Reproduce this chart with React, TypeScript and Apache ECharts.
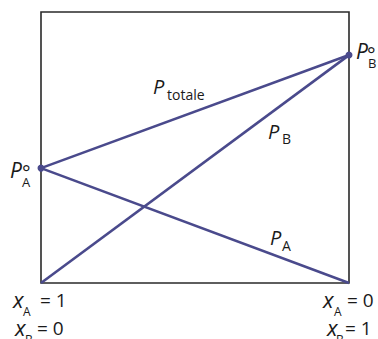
import React, { useEffect, useRef } from "react";
import * as echarts from "echarts";

// Mole fraction of B (x_B), from 0 (pure A) to 1 (pure B)
const xB = [0, 1];
// Partial pressures and total pressure (relative units, 0–100 = box height)
const pA = [42.4, 0];
const pB = [0, 84.1];
const pTotal = [42.4, 84.1];

const LINE = "#4a4a8c";
const FONT = "'Open Sans', 'Noto Sans', sans-serif";

function t(text: string, x: number, y: number, size: number, italic = false, lh?: number) {
  return {
    type: "text",
    x,
    y,
    silent: true,
    style: {
      text,
      fontFamily: FONT,
      fontSize: size,
      fontStyle: italic ? "italic" : "normal",
      fill: "#1a1a1a",
      textAlign: "left",
      textVerticalAlign: "middle",
      lineHeight: lh,
    },
  };
}

export default function App() {
  const ref = useRef<HTMLDivElement>(null);
  useEffect(() => {
    if (!ref.current) return;
    const chart = echarts.init(ref.current, undefined, { renderer: "svg" });
    const pts = (ys: number[]) => xB.map((x, i) => [x, ys[i]]);
    chart.setOption({
      animation: false,
      grid: {
        left: 41,
        right: 29,
        top: 12,
        bottom: 56,
        show: true,
        borderColor: "#2a2a2a",
        borderWidth: 1.6,
      },
      xAxis: {
        type: "value",
        min: 0,
        max: 1,
        axisLine: { show: false },
        axisTick: { show: false },
        axisLabel: { show: false },
        splitLine: { show: false },
      },
      yAxis: {
        type: "value",
        min: 0,
        max: 100,
        axisLine: { show: false },
        axisTick: { show: false },
        axisLabel: { show: false },
        splitLine: { show: false },
      },
      series: [
        {
          type: "line",
          data: pts(pA),
          symbol: "none",
          clip: false,
          lineStyle: { color: LINE, width: 2.6 },
        },
        {
          type: "line",
          data: pts(pB),
          symbol: "none",
          clip: false,
          lineStyle: { color: LINE, width: 2.6 },
        },
        {
          type: "line",
          data: pts(pTotal),
          symbol: "circle",
          symbolSize: 7,
          clip: false,
          itemStyle: { color: LINE },
          lineStyle: { color: LINE, width: 2.6 },
        },
      ],
      graphic: [
        // P totale
        t("P", 153, 86, 20, true),
        t("totale", 167, 94, 14),
        // P B
        t("P", 268, 131, 20, true),
        t("B", 282, 138, 14),
        // P A
        t("P", 270, 237, 20, true),
        t("A", 282, 245, 14),
        // P°A
        t("P", 10, 170, 21, true),
        t("°", 22, 172, 20, false, 8),
        t("A", 22, 182, 13, false, 10),
        // P°B
        t("P", 356, 51, 21, true),
        t("°", 367, 54, 20, false, 8),
        t("B", 368, 63, 13, false, 10),
        // bottom-left
        t("x", 13, 299, 22, true),
        t("A", 23, 311, 12, false, 10),
        t("= 1", 40, 300, 19),
        t("x", 15, 327, 22, true),
        t("B", 25, 339, 12, false, 10),
        t("= 0", 37, 328, 19),
        // bottom-right
        t("x", 323, 299, 22, true),
        t("A", 334, 311, 12, false, 10),
        t("= 0", 347, 300, 19),
        t("x", 327, 327, 22, true),
        t("B", 336, 339, 12, false, 10),
        t("= 1", 345, 328, 19),
      ],
    });
    return () => chart.dispose();
  }, []);
  return (
    <div
      ref={ref}
      style={{ position: "fixed", left: 0, top: 0, width: 378, height: 339, background: "#fff" }}
    />
  );
}
